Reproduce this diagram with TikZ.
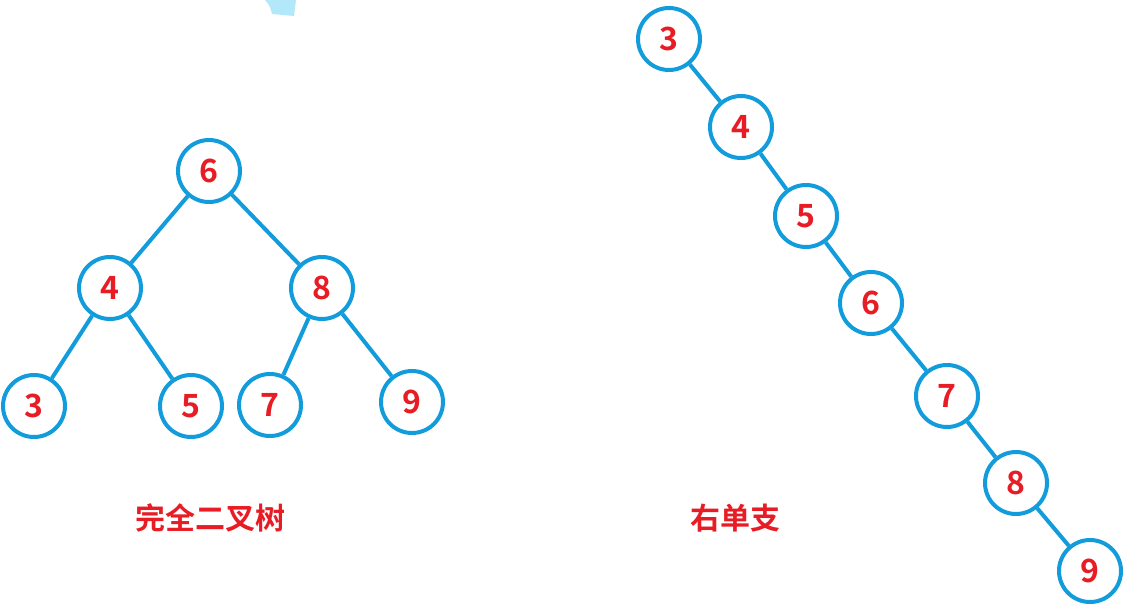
\documentclass[tikz,border=0pt]{standalone}
\usepackage{fontspec}
\newfontfamily\cjk[BoldFont={* Bold}]{Noto Sans CJK SC}
\usetikzlibrary{positioning}
\definecolor{treeblue}{RGB}{18,156,220}
\definecolor{numred}{RGB}{232,28,36}
\definecolor{smudge}{RGB}{178,232,250}
\tikzset{knot/.style = {draw=treeblue, line width=2pt, circle, fill=white,
                        minimum size=31pt, inner sep=0,
                        text=numred, font=\cjk\bfseries\fontsize{16}{16}\selectfont}}
\tikzset{branch/.style = {draw=treeblue, line width=2pt}}
\tikzset{caption/.style = {text=numred, font=\cjk\bfseries\fontsize{15}{15}\selectfont}}

\begin{document}
\begin{tikzpicture}[x=0.5pt, y=-0.5pt]
    \useasboundingbox (0, 0) rectangle (1128, 605);
    \fill [smudge] (265, 0) .. controls (270, 5) and (271, 10) .. (272, 14)
        -- (294, 16) -- (296, 0) -- cycle;

    % complete binary tree
    \node [knot] (t6) at (209, 171) {6};
    \node [knot] (t4) at (110, 288) {4};
    \node [knot] (t8) at (322, 288) {8};
    \node [knot] (t3) at (34, 406) {3};
    \node [knot] (t5) at (191, 406) {5};
    \node [knot] (t7) at (270, 405) {7};
    \node [knot] (t9) at (412, 402) {9};
    \draw [branch] (t6) -- (t4);
    \draw [branch] (t6) -- (t8);
    \draw [branch] (t4) -- (t3);
    \draw [branch] (t4) -- (t5);
    \draw [branch] (t8) -- (t7);
    \draw [branch] (t8) -- (t9);
    \node [caption] (tname) at (210, 518) {完全二叉树};

    % right-only chain
    \node [knot] (r3) at (669, 39) {3};
    \node [knot] (r4) at (741, 127) {4};
    \node [knot] (r5) at (806, 216) {5};
    \node [knot] (r6) at (871, 303) {6};
    \node [knot] (r7) at (947, 396) {7};
    \node [knot] (r8) at (1016, 483) {8};
    \node [knot] (r9) at (1090, 571) {9};
    \draw [branch] (r3) -- (r4);
    \draw [branch] (r4) -- (r5);
    \draw [branch] (r5) -- (r6);
    \draw [branch] (r6) -- (r7);
    \draw [branch] (r7) -- (r8);
    \draw [branch] (r8) -- (r9);
    \node [caption] (rname) at (735, 518) {右单支};
\end{tikzpicture}
\end{document}
